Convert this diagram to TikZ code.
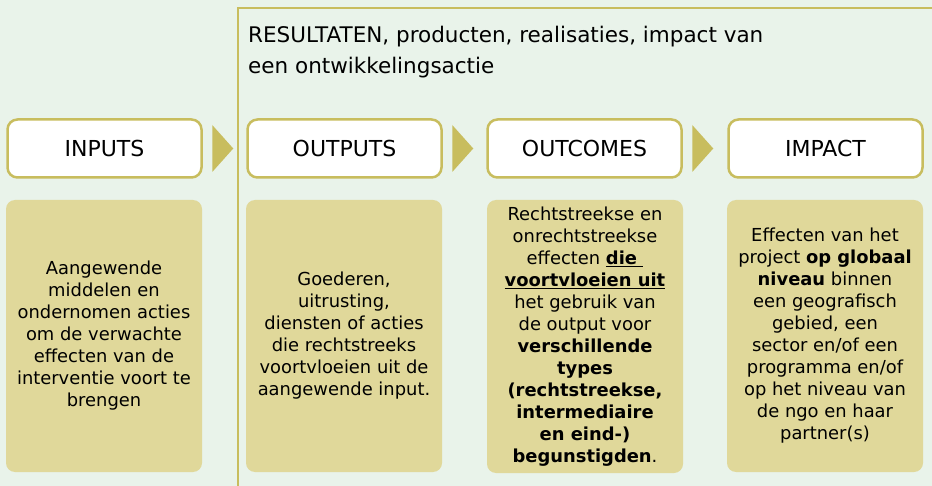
\documentclass[tikz,border=0pt]{standalone}
\usepackage{fontspec}
\setmainfont{DejaVu Sans}
\usetikzlibrary{calc}
\definecolor{bgc}{HTML}{E9F3EA}
\definecolor{oliv}{HTML}{C8BD5E}
\definecolor{bodyc}{HTML}{E0D89A}
\tikzset{
  headbox/.style={draw=oliv, line width=2.5pt, fill=white, rounded corners=10pt,
    minimum width=194pt, minimum height=58pt, inner sep=0pt,
    font=\fontsize{22}{26}\selectfont},
  bodybox/.style={fill=bodyc, rounded corners=9pt, minimum width=196pt,
    minimum height=272pt, align=center, inner sep=0pt,
    font=\fontsize{17.9}{22}\selectfont},
  flowtri/.style={fill=oliv},
  frameline/.style={draw=oliv, line width=2.5pt}
}
\begin{document}
\begin{tikzpicture}[x=1pt,y=-1pt]
\fill[bgc] (0,0) rectangle (932,486);
\useasboundingbox (0,0) rectangle (932,486);
\coordinate (fb) at (238,486);
\coordinate (fc) at (238,8);
\coordinate (fr) at (932,8);
\draw[frameline] (fb) -- (fc) -- (fr);
\node[anchor=north west, align=left, inner sep=0pt, font=\fontsize{21.5}{31}\selectfont] (top) at (248,26)
  {RESULTATEN, producten, realisaties, impact van\\een ontwikkelingsactie};

\node[headbox] (h1) at (104.5,148.5) {INPUTS};
\node[headbox] (h2) at (344.5,148.5) {OUTPUTS};
\node[headbox] (h3) at (584.5,148.5) {OUTCOMES};
\node[headbox] (h4) at (825.5,148.5) {IMPACT};

\foreach \a in {h1,h2,h3}{
  \fill[flowtri] ($(\a.east)+(9.5,-23.5)$) -- ($(\a.east)+(30.5,0)$) -- ($(\a.east)+(9.5,23.5)$) -- cycle;
}

\node[bodybox] (b1) at (104,336) {Aangewende\\middelen en\\ondernomen acties\\om de verwachte\\effecten van de\\interventie voort te\\brengen};
\node[bodybox] (b2) at (344,336) {Goederen,\\uitrusting,\\diensten of acties\\die rechtstreeks\\voortvloeien uit de\\aangewende input.};
\node[bodybox, minimum height=273pt] (b3) at (585,336.5) {Rechtstreekse en\\onrechtstreekse\\effecten \underline{\textbf{die\ }}\\\underline{\textbf{voortvloeien uit}}\\het gebruik van\\de output voor\\\textbf{verschillende}\\\textbf{types}\\\textbf{(rechtstreekse,}\\\textbf{intermediaire}\\\textbf{en eind-)}\\\textbf{begunstigden}.};
\node[bodybox] (b4) at (825,336) {Effecten van het\\project \textbf{op globaal}\\\textbf{niveau} binnen\\een geografisch\\gebied, een\\sector en/of een\\programma en/of\\op het niveau van\\de ngo en haar\\partner(s)};
\end{tikzpicture}
\end{document}
